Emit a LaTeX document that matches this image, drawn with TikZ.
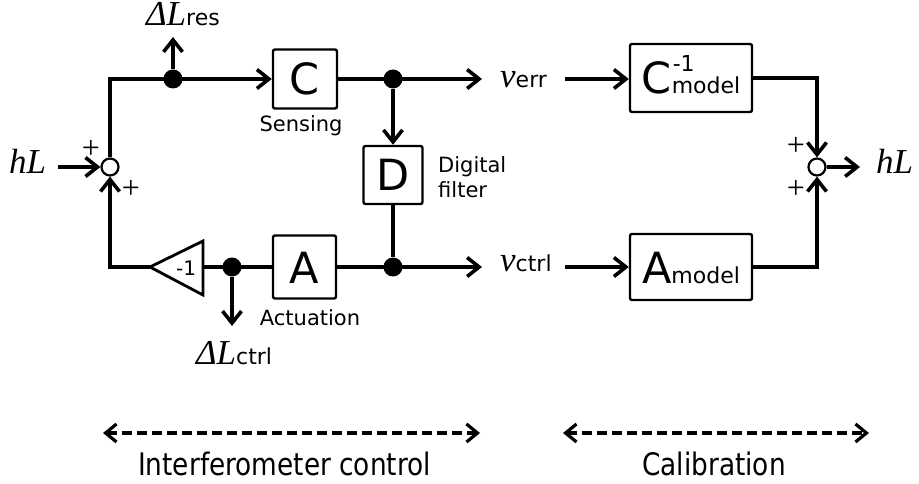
\documentclass[tikz,border=0pt]{standalone}
\usepackage{fontspec}
\setmainfont{DejaVu Sans}
\newfontfamily\rmitfont{Liberation Serif}
\usetikzlibrary{arrows.meta,calc}

\newcommand\fs[1]{\fontsize{#1}{#1}\selectfont}
\newcommand\mvar[1]{{\rmitfont\itshape\fs{35}#1}}

\begin{document}
\begin{tikzpicture}[x=1pt,y=-1pt,
  wire/.style={line width=3.6pt},
  arr/.style={wire,-{Straight Barb[length=12pt,width=19pt]}},
  darr/.style={line width=3.2pt,dash pattern=on 10pt off 5pt,
    {Straight Barb[length=11pt,width=18pt]}-{Straight Barb[length=11pt,width=18pt]}},
  blk/.style={draw,line width=2.4pt,rounded corners=2pt,inner sep=0pt,
    text height=32pt,text depth=0pt,font=\fs{43}},
  sumc/.style={circle,draw,line width=2.2pt,fill=white,minimum size=17pt,inner sep=0pt},
  dot/.style={circle,fill,minimum size=19pt,inner sep=0pt},
  lab/.style={inner sep=0pt,font=\fs{21}},
  txt/.style={inner sep=0pt,anchor=base west},
  plus/.style={inner sep=0pt,font=\rmitfont\fs{32}},
  bot/.style={inner sep=0pt,anchor=base,font=\fs{31}}
]
\useasboundingbox (0,0) rectangle (919,484);

% summing junctions
\node[sumc] (sL) at (110,167) {};
\node[sumc] (sR) at (817,167) {};

% blocks
\node[blk,minimum width=64pt,minimum height=59pt] (C) at (305,79) {C};
\node[blk,minimum width=59pt,minimum height=58pt] (D) at (393,175) {D};
\node[blk,minimum width=63pt,minimum height=63pt] (A) at (304.5,267) {A};
\node[blk,minimum width=122pt,minimum height=68pt] (Cm) at (691,78)
  {C\rlap{\raisebox{22pt}{\fs{22}\kern1pt-1}}\fs{22}model};
\node[blk,minimum width=122pt,minimum height=66pt] (Am) at (691,267)
  {A\fs{22}model};

% branch points
\node[dot] (t1) at (173,79) {};
\node[dot] (t2) at (393,79) {};
\node[dot] (b1) at (393,267) {};
\node[dot] (b2) at (232,267) {};

% gain -1
\coordinate (gtip) at (150,267);
\coordinate (gback) at (203,267);
\draw[line width=2.8pt,line join=miter] (gtip) -- (203,241) -- (203,295) -- cycle;
\node[font=\fs{20},inner sep=0pt] (g) at (186,268) {-1};

% signal labels
\node[txt] (hLl) at (9,174) {\mvar{hL}};
\node[txt] (hLr) at (876,174) {\mvar{hL}};
\node[txt] (verr) at (500,88) {\mvar{v}\fs{22}err};
\node[txt] (vctrl) at (500,271) {\mvar{v}\fs{22}ctrl};
\node[txt] (dLres) at (146,26) {\mvar{ΔL}\fs{22}res};
\node[txt] (dLctrl) at (196,364) {\mvar{ΔL}\fs{22}ctrl};
\coordinate (resEnd) at (173,37);
\coordinate (ctrlEnd) at (232,326);

% block captions
\node[lab,anchor=base] (sens) at (301,132) {Sensing};
\node[lab,anchor=base] (act) at (310,325) {Actuation};
\node[lab,anchor=north west,align=left,font=\fontsize{21}{25}\selectfont]
  (dig) at (438,156) {Digital\\filter};

% signs at the junctions
\node[plus] (p1) at (91,149) {+};
\node[plus] (p2) at (131,189) {+};
\node[plus] (p3) at (796,146) {+};
\node[plus] (p4) at (796,189) {+};

% loop wiring
\draw[arr,shorten <=12pt] (hLl.east |- sL.west) -- (sL.west);
\draw[arr] (sL.north) |- (C.west);
\draw[arr] (t1) -- (resEnd);
\draw[arr,shorten >=18pt] (C.east) -- (verr.west |- C.east);
\draw[arr] (t2) -- (D.north);
\draw[wire] (D.south) -- (b1);
\draw[arr,shorten >=18pt] (A.east) -- (vctrl.west |- A.east);
\draw[wire] (A.west) -- (gback);
\draw[arr] (b2) -- (ctrlEnd);
\draw[arr] (gtip) -| (sL.south);

% calibration wiring
\draw[arr,shorten <=18pt] (verr.east |- C.east) -- (Cm.west |- C.east);
\draw[arr,shorten <=13pt] (vctrl.east |- Am.west) -- (Am.west);
\draw[arr] (Cm.east) -| (sR.north);
\draw[arr] (Am.east) -| (sR.south);
\draw[arr,shorten >=16pt] (sR.east) -- (hLr.west |- sR.east);

% extent arrows
\coordinate (ia) at (103,433);
\coordinate (ib) at (480,433);
\coordinate (ca) at (563,433);
\coordinate (cb) at (869,433);
\draw[darr] (ia) -- (ib);
\draw[darr] (ca) -- (cb);
\node[bot] (it) at (284.5,475) {\scalebox{0.85}[1]{Interferometer control}};
\node[bot] (ct) at (714,475) {\scalebox{0.85}[1]{Calibration}};
\end{tikzpicture}
\end{document}
